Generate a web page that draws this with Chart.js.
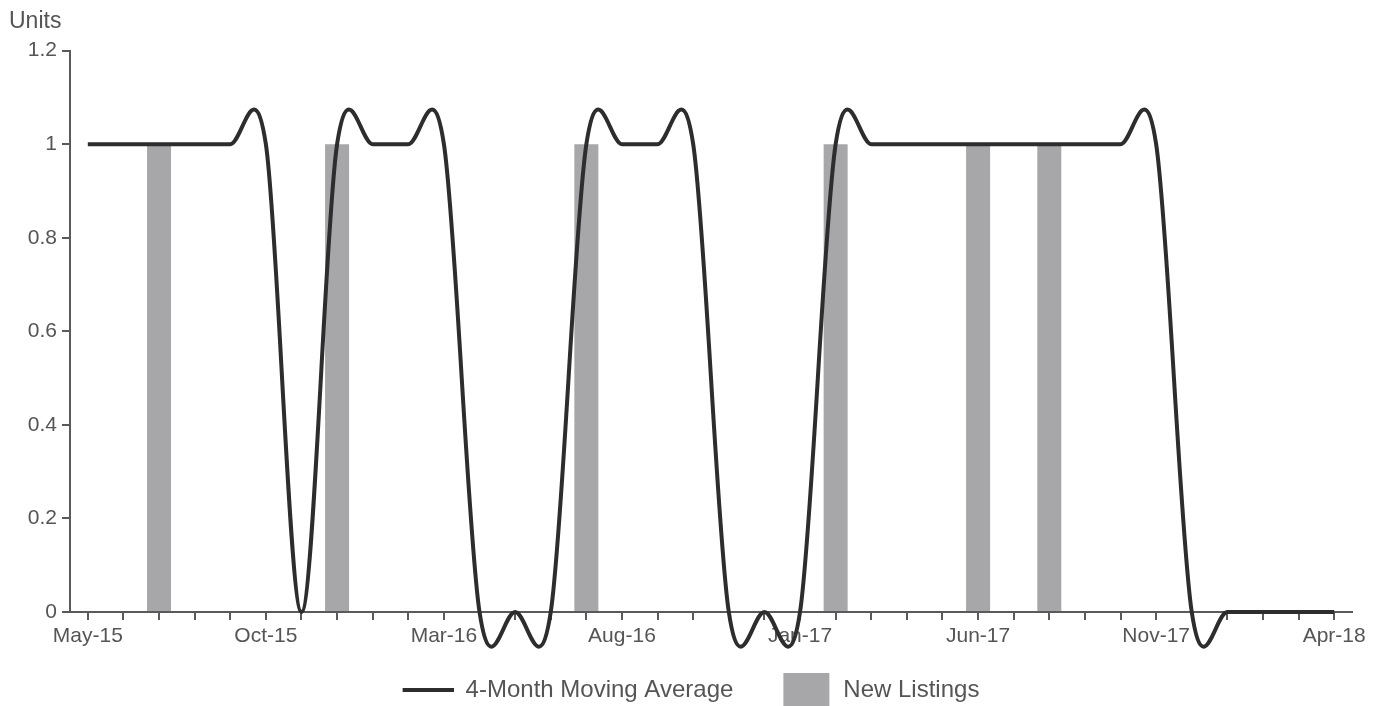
<!DOCTYPE html>
<html>
<head>
<meta charset="utf-8">
<title>New Listings</title>
<script src="https://cdn.jsdelivr.net/npm/chart.js@4.4.1/dist/chart.umd.min.js"></script>
<style>
  html, body { margin: 0; padding: 0; background: #fff; }
  #wrap { width: 1387px; height: 706px; }
</style>
</head>
<body>
<div id="wrap"><canvas id="listingsChart"></canvas></div>
<script>
let months = [
  'May-15', 'Jun-15', 'Jul-15', 'Aug-15', 'Sep-15', 'Oct-15', 'Nov-15', 'Dec-15',
  'Jan-16', 'Feb-16', 'Mar-16', 'Apr-16', 'May-16', 'Jun-16', 'Jul-16', 'Aug-16',
  'Sep-16', 'Oct-16', 'Nov-16', 'Dec-16', 'Jan-17', 'Feb-17', 'Mar-17', 'Apr-17',
  'May-17', 'Jun-17', 'Jul-17', 'Aug-17', 'Sep-17', 'Oct-17', 'Nov-17', 'Dec-17',
  'Jan-18', 'Feb-18', 'Mar-18', 'Apr-18'
];
let movingAverage = [
  1, 1, 1, 1, 1, 1, 0, 1, 1, 1, 1, 0,
  0, 0, 1, 1, 1, 1, 0, 0, 0, 1, 1, 1,
  1, 1, 1, 1, 1, 1, 1, 0, 0, 0, 0, 0
];
let newListings = [
  0, 0, 1, 0, 0, 0, 0, 1, 0, 0, 0, 0,
  0, 0, 1, 0, 0, 0, 0, 0, 0, 1, 0, 0,
  0, 1, 0, 1, 0, 0, 0, 0, 0, 0, 0, 0
];
let yTicks = [0, 0.2, 0.4, 0.6, 0.8, 1, 1.2];

let axisColor = '#5a5a5a';
let lineColor = '#2d2d2d';
let barColor = '#a7a7aa';

Chart.defaults.font.family = '"Liberation Sans", Arial, sans-serif';
Chart.defaults.color = '#555';

// legend swatches: canvas as wide as the legend box, colour drawn near its right end
let boxW = 72;
function swatch(w, h, color, right) {
  let c = document.createElement('canvas');
  c.width = boxW;
  c.height = h;
  let g = c.getContext('2d');
  g.fillStyle = color;
  g.fillRect(boxW - right - w, 0, w, h);
  return c;
}
let lineSwatch = swatch(51, 4, lineColor, 0);
let barSwatch = swatch(46, 34, barColor, 2);

// uniform catmull-rom control points (overshooting spline like the original)
const catmullRom = {
  id: 'catmullRom',
  beforeDatasetDraw(chart, args) {
    let meta = args.meta;
    if (meta.type !== 'line') return;
    let pts = meta.data;
    let n = pts.length;
    pts.forEach((p, i) => {
      let prev = pts[Math.max(i - 1, 0)];
      let next = pts[Math.min(i + 1, n - 1)];
      let dx = (next.x - prev.x) / 6;
      let dy = (next.y - prev.y) / 6;
      p.cp1x = p.x - dx;
      p.cp1y = p.y - dy;
      p.cp2x = p.x + dx;
      p.cp2y = p.y + dy;
    });
    meta.dataset._pointsUpdated = true;
    meta.dataset._path = undefined;
  }
};

new Chart(document.getElementById('listingsChart'), {
  type: 'bar',
  data: {
    labels: months,
    datasets: [
      {
        type: 'line',
        label: '4-Month Moving Average',
        data: movingAverage,
        borderColor: lineColor,
        backgroundColor: lineColor,
        borderWidth: 4,
        tension: 0.4,
        pointRadius: 0,
        clip: false,
        order: 0
      },
      {
        type: 'bar',
        label: 'New Listings',
        data: newListings,
        backgroundColor: barColor,
        borderWidth: 0,
        barPercentage: 0.674,
        categoryPercentage: 1,
        order: 1
      }
    ]
  },
  options: {
    responsive: true,
    maintainAspectRatio: false,
    animation: false,
    events: [],
    layout: { padding: { left: 9, right: 35, top: 0, bottom: -6 } },
    plugins: {
      tooltip: { enabled: false },
      title: {
        display: true,
        text: 'Units',
        align: 'start',
        color: '#555',
        font: { size: 23, weight: 'normal' },
        padding: { top: 8, bottom: 15 }
      },
      legend: {
        position: 'bottom',
        labels: {
          usePointStyle: true,
          pointStyleWidth: boxW,
          padding: 26,
          color: '#555',
          font: { size: 24 },
          generateLabels(chart) {
            let items = Chart.defaults.plugins.legend.labels.generateLabels(chart);
            items.forEach(it => {
              it.pointStyle = it.datasetIndex === 0 ? lineSwatch : barSwatch;
            });
            return items;
          }
        }
      }
    },
    scales: {
      x: {
        offset: true,
        grid: {
          offset: false,
          drawOnChartArea: false,
          drawTicks: true,
          tickLength: 8,
          color: axisColor,
          lineWidth: 2
        },
        border: { color: axisColor, width: 2 },
        ticks: {
          autoSkip: false,
          maxRotation: 0,
          padding: 4,
          font: { size: 21 },
          color: '#555',
          callback: (v, i) => (i % 5 === 0 ? months[i] : '')
        },
        afterFit: s => { s.height = 40; }
      },
      y: {
        min: 0,
        max: 1.2,
        afterBuildTicks: s => { s.ticks = yTicks.map(v => ({ value: v })); },
        grid: {
          drawOnChartArea: false,
          drawTicks: true,
          tickLength: 8,
          color: axisColor,
          lineWidth: 2
        },
        border: { color: axisColor, width: 2 },
        ticks: {
          padding: 5,
          font: { size: 21 },
          color: '#555',
          callback: v => String(+v.toFixed(1))
        },
        afterFit: s => { s.width = 61; }
      }
    }
  },
  plugins: [catmullRom]
});
</script>
</body>
</html>
